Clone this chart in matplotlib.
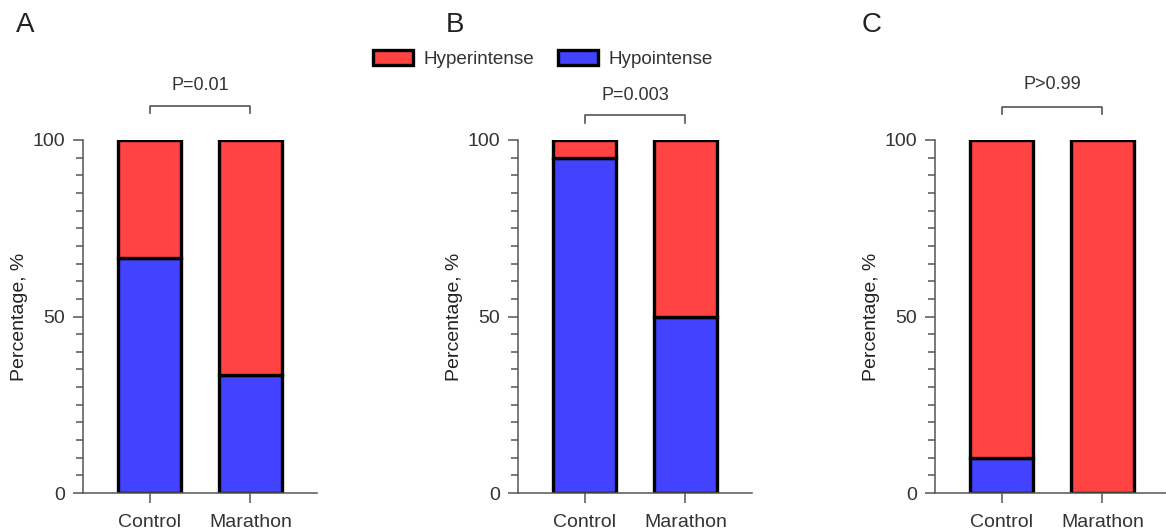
import matplotlib
matplotlib.use("Agg")
import matplotlib.pyplot as plt
from matplotlib.patches import Patch
from matplotlib.ticker import MultipleLocator

plt.rcParams.update({
    "font.family": ["Liberation Sans", "DejaVu Sans"],
    "font.size": 13,
    "axes.edgecolor": "#555555",
    "xtick.color": "#555555",
    "ytick.color": "#555555",
    "xtick.labelcolor": "#333333",
    "ytick.labelcolor": "#333333",
})

RED, BLUE = "#FF4242", "#4242FF"

groups = ["Control", "Marathon"]
panels = ["A", "B", "C"]
# percentage hypointense per group; hyperintense is the remainder
hypo = {"A": [66.7, 33.3], "B": [95.0, 50.0], "C": [10.0, 0.0]}
hyper = {k: [100 - v for v in vals] for k, vals in hypo.items()}
pvals = {"A": "P=0.01", "B": "P=0.003", "C": "P>0.99"}
# bracket height, tick bottom, text centre (data units)
brackets = {"A": (109.6, 107.6, 115.3), "B": (107.1, 104.8, 112.7), "C": (109.4, 107.4, 115.6)}

W, H = 1166, 529
fig = plt.figure(figsize=(W / 100, H / 100), dpi=100)

lefts = {"A": 83, "B": 518, "C": 935}
letter_x = {"A": 25, "B": 455, "C": 872}
ax_w = 234
bottom_px, top_px = 493, 140

for p in panels:
    ax = fig.add_axes([lefts[p] / W, 1 - bottom_px / H, ax_w / W, (bottom_px - top_px) / H])
    x = [0, 1]
    ax.bar(x, hypo[p], width=0.62, color=BLUE, edgecolor="black", linewidth=2.4, zorder=2)
    ax.bar(x, hyper[p], bottom=hypo[p], width=0.62, color=RED, edgecolor="black",
           linewidth=2.4, zorder=2)
    ax.set_xlim(-0.66, 1.66)
    ax.set_ylim(0, 100)
    ax.set_yticks([0, 50, 100])
    ax.yaxis.set_minor_locator(MultipleLocator(5))
    ax.set_xticks(x)
    ax.set_xticklabels(groups)
    ax.tick_params(axis="both", which="major", length=7, width=1.1, labelsize=14, pad=6)
    ax.tick_params(axis="y", which="minor", length=5, width=1.1)
    ax.tick_params(axis="x", which="major", pad=8)
    for s in ("top", "right"):
        ax.spines[s].set_visible(False)
    for s in ("left", "bottom"):
        ax.spines[s].set_linewidth(1.1)
    ax.set_ylabel("Percentage, %", fontsize=14, color="#222222")
    ax.yaxis.set_label_coords(-0.235, 0.5)

    yb, yt, ytext = brackets[p]
    ax.plot([0, 0, 1, 1], [yt, yb, yb, yt], color="#555555", lw=1.2, clip_on=False)
    ax.text(0.5, ytext, pvals[p], ha="center", va="center", fontsize=13, color="#333333",
            clip_on=False)

    fig.text(letter_x[p] / W, 1 - 25 / H, p, fontsize=20, ha="center", va="center",
             color="#222222")

handles = [Patch(facecolor=RED, edgecolor="black", linewidth=2.4, label="Hyperintense"),
           Patch(facecolor=BLUE, edgecolor="black", linewidth=2.4, label="Hypointense")]
fig.legend(handles=handles, loc="center", bbox_to_anchor=(543 / W, 1 - 59 / H), ncol=2,
           frameon=False, fontsize=13.6, handlelength=2.1, handleheight=0.8,
           handletextpad=0.55, columnspacing=1.3, labelcolor="#333333")

fig.savefig("out.png", dpi=100)
